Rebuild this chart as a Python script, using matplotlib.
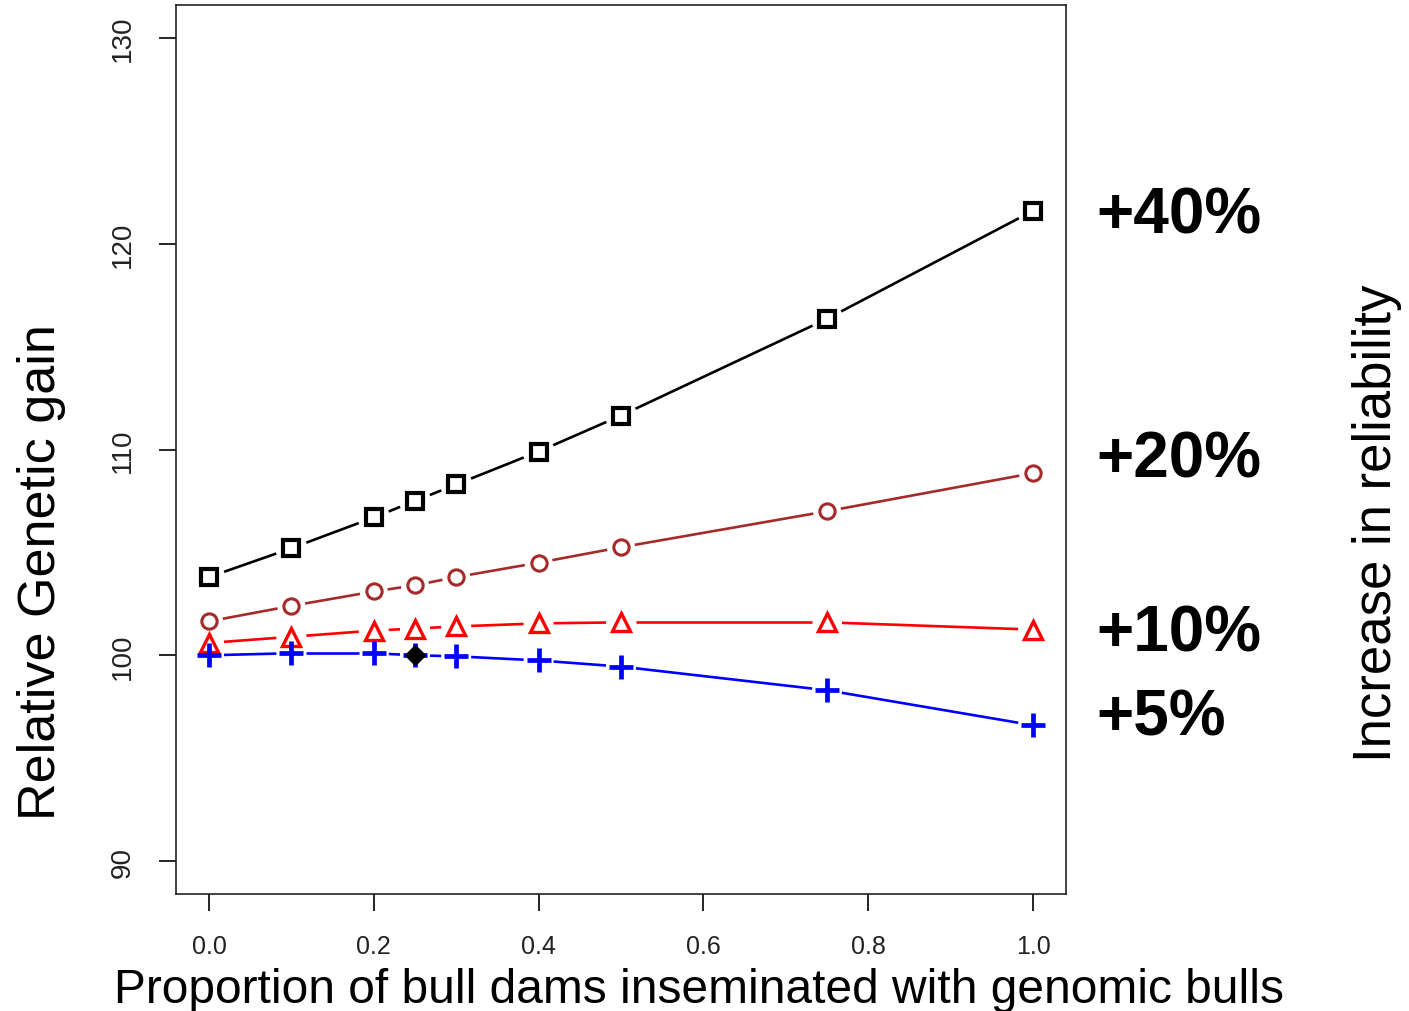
import numpy as np
import matplotlib
matplotlib.use("Agg")
import matplotlib.pyplot as plt

plt.rcParams['font.family'] = ['Liberation Sans', 'DejaVu Sans']

prop = [0.0, 0.1, 0.2, 0.25, 0.3, 0.4, 0.5, 0.75, 1.0]
gain_40 = [103.8, 105.2, 106.7, 107.5, 108.3, 109.9, 111.65, 116.35, 121.6]
gain_20 = [101.65, 102.4, 103.1, 103.4, 103.8, 104.5, 105.25, 107.0, 108.85]
gain_10 = [100.6, 100.9, 101.2, 101.3, 101.4, 101.55, 101.6, 101.6, 101.25]
gain_5 = [100.0, 100.1, 100.1, 100.0, 99.95, 99.75, 99.45, 98.3, 96.6]
ref_x, ref_y = 0.25, 100.0

xticks = [0.0, 0.2, 0.4, 0.6, 0.8, 1.0]
yticks = [90, 100, 110, 120, 130]
pct_labels = ["+40%", "+20%", "+10%", "+5%"]

fig = plt.figure(figsize=(14.09, 10.12), dpi=100)
ax = fig.add_axes([176/1409, 1 - 895/1012, (1066-176)/1409, (895-6)/1012])
ax.set_xlim(-0.04, 1.04)
ax.set_ylim(88.4, 131.6)


def linea_gap(x, y, color, gap=16):
    # duong noi co khoang trong quanh diem (giong type="b" cua R)
    pts = ax.transData.transform(np.column_stack([x, y]))
    inv = ax.transData.inverted()
    for p, q in zip(pts[:-1], pts[1:]):
        d = q - p
        L = np.hypot(*d)
        if L <= 2 * gap:
            continue
        u = d / L
        a = inv.transform(p + u * gap)
        b = inv.transform(q - u * gap)
        ax.plot([a[0], b[0]], [a[1], b[1]], color=color, lw=1.9,
                solid_capstyle='butt')


linea_gap(prop, gain_40, 'black')
linea_gap(prop, gain_20, '#a52a2a', gap=14)
linea_gap(prop, gain_10, 'red', gap=15)
linea_gap(prop, gain_5, 'blue', gap=15)

ax.plot(prop, gain_40, 's', ms=11.5, mfc='none', mec='black', mew=3)
ax.plot(prop, gain_20, 'o', ms=11, mfc='none', mec='#a52a2a', mew=2.2)
ax.plot(prop, gain_10, '^', ms=13, mfc='none', mec='red', mew=2.4)
ax.plot(prop, gain_5, '+', ms=17, mec='blue', mew=3.4)
ax.plot([ref_x], [ref_y], 'D', ms=10, color='black')

ax.set_xticks(xticks)
ax.set_xticklabels([f"{v:.1f}" for v in xticks])
ax.set_yticks(yticks)
ax.set_yticklabels([str(v) for v in yticks], rotation=90, va='center')
ax.tick_params(axis='x', length=12, width=1.2, pad=17, labelsize=18,
               labelcolor='#222222')
ax.tick_params(axis='y', length=12, width=1.2, pad=17, labelsize=20,
               labelcolor='#222222')
for s in ax.spines.values():
    s.set_linewidth(1.2)
    s.set_color('#222222')

fig.text(42/1409, 1 - 572/1012, "Relative Genetic gain", rotation=90,
         fontsize=37.5, ha='center', va='center')
fig.text(699/1409, 1 - 1003/1012, "Proportion of bull dams inseminated with genomic bulls",
         fontsize=34.5, ha='center', va='baseline')
fig.text(1377/1409, 1 - 523/1012, "Increase in reliability", rotation=90,
         fontsize=38, ha='center', va='center')

pct_y = [217, 461, 635, 719]
for lab, yy in zip(pct_labels, pct_y):
    fig.text(1096/1409, 1 - yy/1012, lab, fontsize=46, fontweight='bold',
             ha='left', va='center')

fig.savefig("out.png", dpi=100)
